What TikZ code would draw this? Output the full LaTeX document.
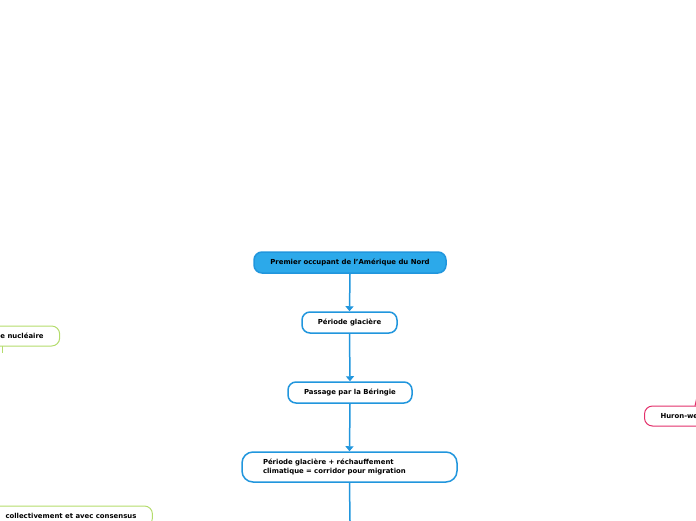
\documentclass[tikz,border=0pt]{standalone}
\usepackage{fontspec}
\setmainfont{DejaVu Sans}
\usetikzlibrary{arrows.meta}
\definecolor{rootfill}{HTML}{2CA9EA}
\definecolor{mainblue}{HTML}{2196DD}
\definecolor{leafgreen}{HTML}{B4DC6C}
\definecolor{leafpink}{HTML}{E3306B}
\tikzset{
  txt/.style={font=\fontsize{6.9}{8.6}\selectfont\bfseries, text=black},
  rootbox/.style={txt, draw=mainblue, fill=rootfill, line width=1.5pt, rounded corners=8pt, minimum height=21pt, inner xsep=0pt},
  bluebox/.style={txt, draw=mainblue, fill=white, line width=1.5pt, rounded corners=8pt, minimum height=21pt, inner xsep=0pt},
  greenbox/.style={txt, draw=leafgreen, fill=white, line width=1pt, rounded corners=8pt, minimum height=20pt, inner xsep=16pt},
  pinkbox/.style={txt, draw=leafpink, fill=white, line width=1pt, rounded corners=8pt, minimum height=20pt, inner xsep=16pt},
  conn/.style={draw=mainblue, line width=1.5pt, -{Triangle[length=5pt,width=8pt]}},
  plainconn/.style={draw=mainblue, line width=1.5pt},
}
\begin{document}
\begin{tikzpicture}[x=1pt,y=-1pt]
\useasboundingbox (0,0) rectangle (696,520);
\clip (0,0) rectangle (696,520);
\node[rootbox, minimum width=192pt] (root) at (350,262.5) {Premier occupant de l'Amérique du Nord};
\node[bluebox, minimum width=95pt] (glac) at (349.5,322.5) {Période glacière};
\node[bluebox, minimum width=124pt] (ber) at (350,392.5) {Passage par la Béringie};
\node[bluebox, minimum height=30pt, text width=173pt, inner xsep=21pt, align=left, rounded corners=11pt] (corr) at (349.5,467) {Période glacière + réchauffement\\climatique = corridor pour migration};
\coordinate (down) at (350,521);
\draw[conn] (root.south) -- (glac.north);
\draw[conn] (glac.south) -- (ber.north);
\draw[conn] (ber.south) -- (corr.north);
\draw[plainconn] (corr.south) -- (down);

\node[greenbox, anchor=west] (nuc) at (-16,336) {e nucléaire};
\coordinate (nucdown) at (2.5,353);
\draw[leafgreen, line width=1pt] (2.5,346) -- (nucdown);

\node[greenbox, anchor=west] (cons) at (-11,516) {collectivement et avec consensus};

\node[pinkbox, anchor=west] (huron) at (644,416) {Huron-we};
\coordinate (hup) at (697,397);
\draw[leafpink, line width=1pt] (695,406) -- (hup);
\end{tikzpicture}
\end{document}
